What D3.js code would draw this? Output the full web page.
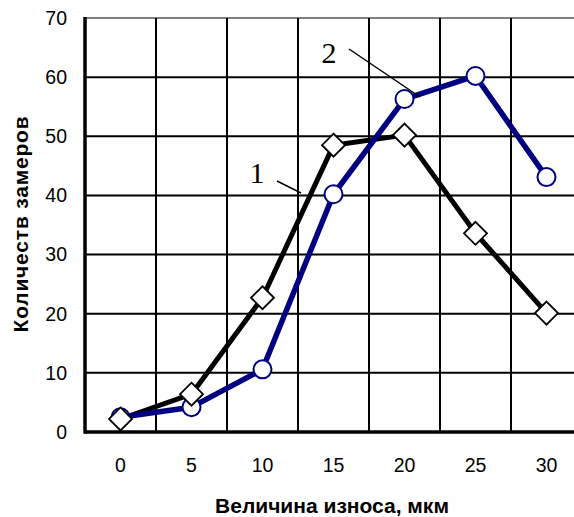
<!DOCTYPE html>
<html><head><meta charset="utf-8">
<script src="https://cdn.jsdelivr.net/npm/d3@7"></script>
<style>html,body{margin:0;padding:0;background:#fff;}svg{display:block;}</style>
</head><body>
<svg id="chart" width="574" height="517"></svg>
<script>
const categories = ["0","5","10","15","20","25","30"];
const series1 = [2.2, 6.4, 22.7, 48.5, 50.2, 33.6, 20.1];
const series2 = [2.5, 4.2, 10.6, 40.2, 56.3, 60.2, 43.1];
const yTicks = [0,10,20,30,40,50,60,70];
const xTitle = "Величина износа, мкм";
const yTitle = "Количеств замеров";

const svg = d3.select("#chart");
const x = d3.scaleBand().domain(categories).range([85, 582]).padding(0);
const y = d3.scaleLinear().domain([0, 70]).range([432, 18]);
const cx = d => x(d) + x.bandwidth()/2;

// horizontal gridlines
svg.append("g").selectAll("line").data(yTicks.filter(t => t>0 && t<70)).join("line")
  .attr("x1", 85).attr("x2", 574).attr("y1", d=>y(d)).attr("y2", d=>y(d))
  .attr("stroke", "#000").attr("stroke-width", 2);
// top border (gray)
svg.append("line").attr("x1", 85).attr("x2", 574).attr("y1", y(70)).attr("y2", y(70))
  .attr("stroke", "#808080").attr("stroke-width", 2);
// vertical gridlines at band boundaries
svg.append("g").selectAll("line").data(categories.slice(1)).join("line")
  .attr("x1", d=>x(d)).attr("x2", d=>x(d)).attr("y1", y(70)).attr("y2", y(0))
  .attr("stroke", "#000").attr("stroke-width", 2);

// axes lines (thick)
svg.append("line").attr("x1", 85).attr("x2", 85).attr("y1", y(70)-1).attr("y2", y(0)+1.5)
  .attr("stroke", "#000").attr("stroke-width", 3.5);
svg.append("line").attr("x1", 84).attr("x2", 574).attr("y1", y(0)).attr("y2", y(0))
  .attr("stroke", "#000").attr("stroke-width", 3.5);

// y tick labels
svg.append("g").selectAll("text").data(yTicks).join("text")
  .attr("x", 67).attr("y", d=>y(d)).attr("dy", "0.35em")
  .attr("text-anchor", "end").attr("font-family", "Liberation Sans, Arial, sans-serif")
  .attr("font-size", 19.5).text(d=>d);
// x tick labels
svg.append("g").selectAll("text").data(categories).join("text")
  .attr("x", d=>cx(d)).attr("y", 472)
  .attr("text-anchor", "middle").attr("font-family", "Liberation Sans, Arial, sans-serif")
  .attr("font-size", 19.5).text(d=>d);

// titles
svg.append("text").attr("x", 332).attr("y", 513).attr("text-anchor", "middle")
  .attr("font-family", "Liberation Sans, Arial, sans-serif").attr("font-weight", "bold")
  .attr("font-size", 21).text(xTitle);
svg.append("text").attr("transform", "translate(28,224) rotate(-90)").attr("text-anchor", "middle")
  .attr("font-family", "Liberation Sans, Arial, sans-serif").attr("font-weight", "bold")
  .attr("font-size", 21).attr("letter-spacing", 0.8).text(yTitle);

// lines
const line = d3.line().x((d,i)=>cx(categories[i])).y(d=>y(d));
svg.append("path").datum(series1).attr("d", line).attr("fill", "none")
  .attr("stroke", "#000").attr("stroke-width", 5).attr("stroke-linejoin", "round");
svg.append("path").datum(series2).attr("d", line).attr("fill", "none")
  .attr("stroke", "#000080").attr("stroke-width", 5.5).attr("stroke-linejoin", "round");

// markers
svg.append("g").selectAll("circle").data(series2).join("circle")
  .attr("cx", (d,i)=>cx(categories[i])).attr("cy", d=>y(d)).attr("r", 9)
  .attr("fill", "#fff").attr("stroke", "#000080").attr("stroke-width", 2);
svg.append("g").selectAll("path").data(series1).join("path")
  .attr("d", (d,i)=>{const px=cx(categories[i]), py=y(d), r=11.5;
    return `M${px},${py-r}L${px+r},${py}L${px},${py+r}L${px-r},${py}Z`;})
  .attr("fill", "#fff").attr("stroke", "#000").attr("stroke-width", 1.8);

// annotations
svg.append("line").attr("x1", 277).attr("y1", 181).attr("x2", 301).attr("y2", 193)
  .attr("stroke", "#000").attr("stroke-width", 1.5);
svg.append("text").attr("x", 257).attr("y", 183).attr("text-anchor", "middle")
  .attr("font-family", "Liberation Serif, Times New Roman, serif").attr("font-size", 30).text("1");
svg.append("line").attr("x1", 349).attr("y1", 49).attr("x2", 420).attr("y2", 97)
  .attr("stroke", "#000").attr("stroke-width", 1.5);
svg.append("text").attr("x", 329).attr("y", 63).attr("text-anchor", "middle")
  .attr("font-family", "Liberation Serif, Times New Roman, serif").attr("font-size", 30).text("2");
</script>
</body></html>
